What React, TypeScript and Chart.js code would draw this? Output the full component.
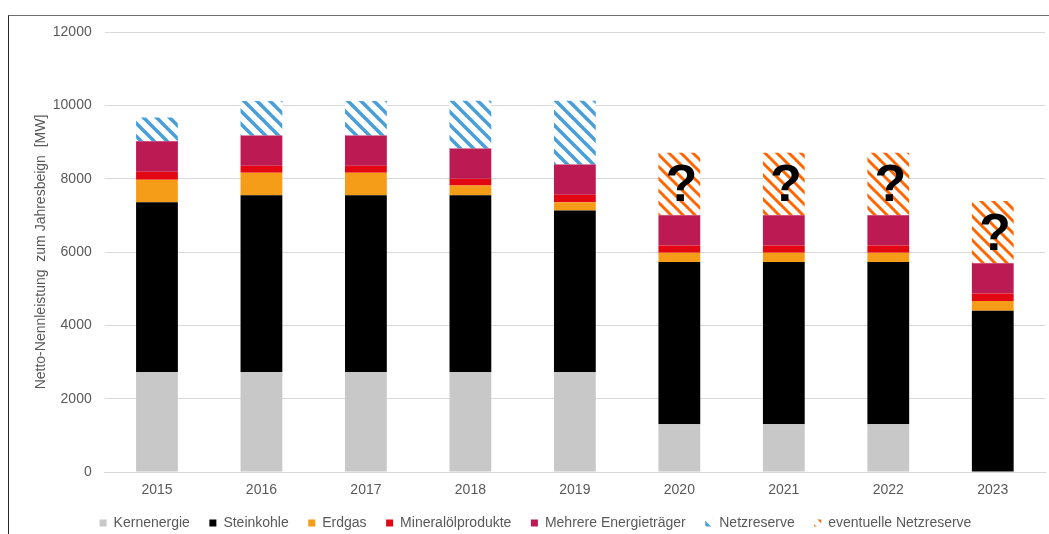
import React, { useEffect, useRef } from "react";
import { Chart, registerables } from "chart.js";

Chart.register(...registerables);

const years = ["2015", "2016", "2017", "2018", "2019", "2020", "2021", "2022", "2023"];
const kernenergie = [2720, 2720, 2720, 2720, 2720, 1300, 1300, 1300, 0];
const steinkohle = [4640, 4830, 4830, 4830, 4410, 4430, 4430, 4430, 4400];
const erdgas = [610, 610, 610, 265, 230, 250, 250, 250, 265];
const mineraloel = [220, 190, 190, 180, 200, 200, 200, 200, 200];
const mehrere = [830, 830, 830, 830, 825, 825, 825, 825, 825];
const netzreserve = [650, 940, 940, 1300, 1740, 0, 0, 0, 0];
const eventuelle = [0, 0, 0, 0, 0, 1705, 1705, 1705, 1700];
const yTitle = "Netto-Nennleistung  zum Jahresbeign  [MW]";

function makePattern(color: string, period: number, width: number) {
  const c = document.createElement("canvas");
  c.width = period;
  c.height = period;
  const g = c.getContext("2d")!;
  g.fillStyle = "#ffffff";
  g.fillRect(0, 0, period, period);
  g.strokeStyle = color;
  g.lineWidth = width;
  g.lineCap = "square";
  for (const o of [-period, 0, period]) {
    g.beginPath();
    g.moveTo(o, 0);
    g.lineTo(o + period, period);
    g.stroke();
  }
  return g.createPattern(c, "repeat")!;
}

const questionPlugin = {
  id: "questionMarks",
  afterDatasetsDraw(chart: any) {
    const idx = chart.data.datasets.findIndex((d: any) => d.label === "eventuelle Netzreserve");
    if (idx < 0) return;
    const meta = chart.getDatasetMeta(idx);
    const ctx = chart.ctx;
    ctx.save();
    ctx.fillStyle = "#000000";
    ctx.font = 'bold 52px "Liberation Sans", Arial, sans-serif';
    ctx.textAlign = "center";
    ctx.textBaseline = "middle";
    meta.data.forEach((el: any, i: number) => {
      const v = chart.data.datasets[idx].data[i];
      if (!v) return;
      const p = el.getProps(["x", "y", "base"], true);
      ctx.fillText("?", p.x + 2, (p.y + p.base) / 2 + 3);
    });
    ctx.restore();
  },
};

export default function App() {
  const ref = useRef<HTMLCanvasElement>(null);
  useEffect(() => {
    if (!ref.current) return;
    Chart.defaults.font.family = '"Liberation Sans", Arial, sans-serif';
    const blue = makePattern("#4A9FDA", 13, 3.6);
    const orange = makePattern("#FF6600", 12, 3);
    const chart = new Chart(ref.current, {
      type: "bar",
      data: {
        labels: years,
        datasets: [
          { label: "Kernenergie", data: kernenergie, backgroundColor: "#C8C8C8" },
          { label: "Steinkohle", data: steinkohle, backgroundColor: "#000000" },
          { label: "Erdgas", data: erdgas, backgroundColor: "#F59C18" },
          { label: "Mineralölprodukte", data: mineraloel, backgroundColor: "#E30613" },
          { label: "Mehrere Energieträger", data: mehrere, backgroundColor: "#BC1A53" },
          { label: "Netzreserve", data: netzreserve, backgroundColor: blue as any },
          { label: "eventuelle Netzreserve", data: eventuelle, backgroundColor: orange as any },
        ],
      },
      options: {
        animation: false,
        responsive: true,
        maintainAspectRatio: false,
        datasets: { bar: { barPercentage: 0.4, categoryPercentage: 1, borderWidth: 0 } },
        layout: { padding: { left: 26, right: 4, top: 32, bottom: 0 } },
        scales: {
          x: {
            stacked: true,
            grid: { display: false },
            border: { color: "#d9d9d9" },
            ticks: { font: { size: 14 }, color: "#595959", padding: 2 },
            afterFit: (scale: any) => {
              scale.height = 24.5;
            },
          },
          y: {
            stacked: true,
            min: 0,
            max: 12000,
            ticks: {
              stepSize: 2000,
              font: { size: 14 },
              color: "#595959",
              padding: 3,
              callback: (v: any) => String(v),
            },
            grid: { color: "#d9d9d9", drawTicks: true, tickLength: 10, tickColor: "rgba(0,0,0,0)" },
            border: { display: false },
            title: {
              display: true,
              text: yTitle,
              font: { size: 14 },
              color: "#595959",
              padding: { top: 7, bottom: 0 },
            },
          },
        },
        plugins: {
          legend: {
            position: "bottom",
            labels: {
              boxWidth: 7,
              boxHeight: 7,
              font: { size: 14 },
              color: "#595959",
              padding: 19.5,
            },
          },
          tooltip: { enabled: false },
        },
      },
      plugins: [questionPlugin],
    });
    return () => chart.destroy();
  }, []);
  return (
    <div
      style={{
        position: "absolute",
        left: 0,
        top: 0,
        width: 1049,
        height: 534,
        overflow: "hidden",
        background: "#fff",
      }}
    >
      <div
        style={{
          position: "absolute",
          left: 8,
          top: 15,
          right: -2,
          bottom: -2,
          borderTop: "1px solid #6f6f6f",
          borderLeft: "1px solid #262626",
        }}
      />
      <div style={{ position: "absolute", left: 0, top: 0, width: 1049, height: 540 }}>
        <canvas ref={ref} />
      </div>
    </div>
  );
}
